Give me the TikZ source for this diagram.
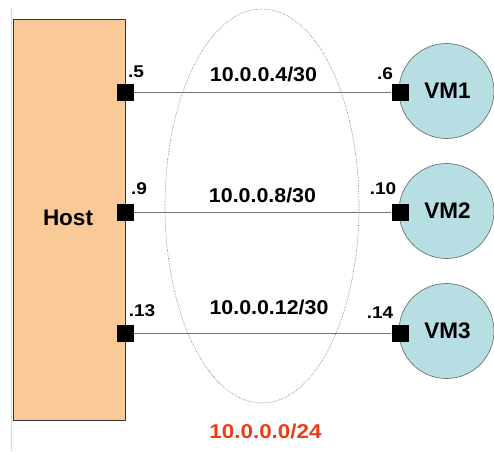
\documentclass[tikz,border=0pt]{standalone}
\usepackage{fontspec}
\setmainfont{Liberation Sans}
% stretch a label horizontally by a factor
\newcommand{\hstretch}[2]{\scalebox{#1}[1]{#2}}
\begin{document}
\begin{tikzpicture}[x=1pt,y=-1pt,
  hostbox/.style={draw=black!80, fill=hostfill, line width=0.8pt},
  vmnode/.style={circle, draw=black!60, fill=vmfill, minimum size=95pt, inner sep=0pt, line width=0.6pt, font=\bfseries\fontsize{22.5}{22.5}\selectfont},
  port/.style={rectangle, fill=black, minimum size=17pt, inner sep=0pt},
  link/.style={draw=black!55, line width=0.8pt},
  addr/.style={font=\bfseries\fontsize{17}{17}\selectfont},
  subnet/.style={font=\bfseries\fontsize{20}{20}\selectfont},
  cloud/.style={draw=black!55, densely dotted, line width=0.6pt}
]
\definecolor{hostfill}{RGB}{250,201,152}
\definecolor{vmfill}{RGB}{183,222,226}
\definecolor{netred}{RGB}{232,62,20}
\useasboundingbox (0,0) rectangle (494,451);
% faint left margin rule
\draw[black!15, line width=0.8pt] (11,8) -- (11,451);
% shared subnet
\draw[cloud] (262,206) ellipse [x radius=97, y radius=197];
% host
\draw[hostbox] (13,19) rectangle (125,420);
\node[font=\bfseries\fontsize{22.5}{22.5}\selectfont] (host) at (68,218) {Host};
% virtual machines
\node[vmnode] (vm1) at (446.5,91) {\hspace{2pt}VM1};
\node[vmnode] (vm2) at (446.5,211) {\hspace{2pt}VM2};
\node[vmnode] (vm3) at (446.5,331) {\hspace{2pt}VM3};
% interfaces
\node[port] (h1) at (125,92) {};
\node[port] (h2) at (125,212) {};
\node[port] (h3) at (125,333) {};
\node[port] (v1) at (400,92) {};
\node[port] (v2) at (400,212) {};
\node[port] (v3) at (400,333) {};
% point-to-point links
\draw[link] (h1) -- (v1);
\draw[link] (h2) -- (v2);
\draw[link] (h3) -- (v3);
% link subnets
\node[subnet] (n1) at (263.5,74) {\hstretch{1.07}{10.0.0.4/30}};
\node[subnet] (n2) at (262.5,195) {\hstretch{1.07}{10.0.0.8/30}};
\node[subnet] (n3) at (269,307.5) {\hstretch{1.07}{10.0.0.12/30}};
% interface addresses
\node[addr] (a5) at (136,72) {\hstretch{1.12}{.5}};
\node[addr] (a9) at (139,189) {\hstretch{1.12}{.9}};
\node[addr] (a13) at (142,311) {\hstretch{1.12}{.13}};
\node[addr] (a6) at (385,74) {\hstretch{1.12}{.6}};
\node[addr] (a10) at (383,189) {\hstretch{1.12}{.10}};
\node[addr] (a14) at (380,313) {\hstretch{1.12}{.14}};
% overall network
\node[subnet, text=netred] (net) at (265.5,431) {\hstretch{1.12}{10.0.0.0/24}};
\end{tikzpicture}
\end{document}
